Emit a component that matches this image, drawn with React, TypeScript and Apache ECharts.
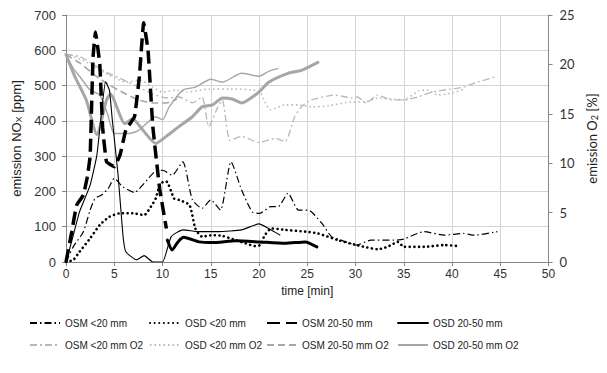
import React, { useEffect, useRef } from "react";
import * as echarts from "echarts";

// ---- time axis ticks ----
const timeTicks = [0, 50, 5];
const noxTicks = [0, 700, 100];
const o2Ticks = [0, 25, 5];

// ---- NOx series (ppm) ----
const osm20T = [0, 0.75, 1.8, 2.5, 3, 3.7, 4.4, 5, 5.9, 7.1, 8.1, 9.2, 10, 11, 12.1, 13.1, 14.1, 15, 16, 17.1, 18.2, 19.3, 20.1, 21.2, 22, 23, 24.1, 25.1, 26.5, 27.5, 28.5, 30.1, 31.6, 34, 35, 37.1, 39.2, 41.2, 42.3, 44.7];
const osm20V = [0, 43, 86, 147, 180, 190, 209, 237, 213, 197, 223, 256, 260, 246, 284, 176, 152, 176, 147, 284, 204, 142, 138, 157, 157, 195, 147, 147, 110, 72, 62, 48, 62, 62, 65, 86, 76, 81, 76, 86];

const osd20T = [0, 0.75, 1.4, 2.5, 3.5, 4.5, 5.6, 6.9, 8.1, 8.8, 9.3, 9.8, 10.4, 11.2, 11.7, 12.8, 13.4, 14.1, 15.2, 16.2, 17.6, 18.6, 19.6, 20.1, 20.6, 21.3, 22.7, 24.8, 26.1, 28.2, 30.1, 30.9, 32.3, 33.3, 34.4, 35, 37.1, 39.2, 40.7];
const osd20V = [0, 6, 29, 67, 105, 128, 138, 138, 133, 157, 180, 223, 228, 180, 176, 161, 95, 72, 76, 74, 62, 53, 45, 48, 76, 95, 91, 86, 81, 62, 48, 43, 36, 43, 57, 43, 43, 48, 45];

const osm2050T = [0, 0.6, 1.1, 1.8, 2.2, 2.5, 2.8, 3.05, 3.5, 3.8, 4.2, 5, 5.6, 6.2, 7.1, 7.6, 8.05, 8.5, 9, 9.7, 10.4];
const osm2050V = [0, 86, 161, 190, 240, 300, 580, 652, 560, 380, 284, 270, 303, 374, 412, 525, 678, 600, 383, 209, 95];

const osd2050T = [10.5, 11.0, 11.6, 12.2, 13.8, 15.2, 17.6, 20, 22.7, 24.8, 26];
const osd2050V = [62, 34, 57, 70, 57, 55, 60, 57, 53, 57, 43];

const extraNoxT = [0, 0.7, 1.4, 2.5, 3.2, 3.7, 4.1, 4.5, 4.8, 5.4, 5.9, 6.2, 7.3, 8.1, 9, 10, 10.9, 12.1, 13.8, 15.8, 18.2, 20, 21, 22.2];
const extraNoxV = [0, 70, 142, 218, 303, 430, 511, 487, 402, 246, 76, 29, 6, 18, 0, 0, 72, 91, 86, 86, 91, 108, 95, 76];

// ---- O2 series (%) ----
const osm20O2T = [0, 1.4, 2.8, 4.2, 5.6, 7.3, 9, 10.4, 11.7, 13.1, 14.1, 14.8, 15.7, 16.2, 17, 18.2, 20, 21.7, 22.7, 23.7, 24.4, 25.4, 27.9, 29.6, 30.2, 31.1, 32.3, 33.7, 35, 36.4, 38, 39.8, 41.2, 42.6, 44.7];
const osm20O2V = [21.0, 20.8, 20.0, 19.2, 18.6, 17.8, 17.0, 16.6, 16.7, 16.1, 16.7, 13.7, 15.6, 16.4, 12.3, 12.7, 12.1, 12.5, 12.2, 14.7, 15.7, 16.4, 16.9, 16.6, 16.7, 16.1, 16.9, 16.4, 16.4, 16.7, 17.2, 17.5, 17.7, 18.2, 18.8];

const osd20O2T = [0, 1.8, 2.8, 4.5, 6.2, 7.6, 9, 10, 11.4, 12.5, 14.8, 16.9, 20, 20.6, 21.2, 22.7, 24.1, 25.4, 27.2, 29.6, 31, 32.3, 35, 36.5, 37.5, 38.5, 40, 41.2];
const osd20O2V = [21.1, 20.4, 19.8, 18.9, 18.2, 18.4, 17.7, 17.2, 17.4, 17.2, 17.5, 17.5, 17.3, 16.2, 15.4, 15.9, 15.9, 15.7, 15.8, 16.2, 16.2, 16.6, 16.4, 17.3, 17.4, 16.9, 17.1, 17.5];

const osm2050O2T = [0, 1.5, 3, 4.5, 6, 7.5, 9, 10.4, 11.5];
const osm2050O2V = [21.0, 20.1, 18.9, 17.9, 17.1, 16.4, 16.1, 16.1, 16.5];

const osd2050O2T = [0, 0.75, 1.4, 2.5, 3.5, 4.3, 5, 6.5, 7.5, 9.3, 10, 10.7, 12.1, 13.4, 15, 16.2, 18.2, 20, 21, 22];
const osd2050O2V = [21.0, 19.6, 18.8, 17.4, 16.9, 15.0, 13.0, 13.0, 13.3, 14.7, 14.4, 15.7, 17.4, 17.7, 18.5, 18.2, 19.1, 18.8, 19.3, 19.6];

const extraO2T = [0, 0.9, 2.1, 3.2, 4.2, 4.6, 6.1, 6.9, 8, 9.3, 10.5, 11.7, 13.1, 14.1, 15.2, 16.2, 17.2, 18.2, 20, 21, 23, 24.4, 26.1];
const extraO2V = [21.0, 18.8, 16.4, 12.9, 16.4, 17.0, 14.0, 14.5, 13.3, 12.0, 12.8, 13.7, 14.7, 15.7, 15.9, 16.6, 16.5, 16.1, 17.2, 18.2, 19.1, 19.4, 20.2];

const legendRows = [
  ["OSM <20 mm", "OSD <20 mm", "OSM 20-50 mm", "OSD 20-50 mm"],
  ["OSM <20 mm O2", "OSD <20 mm O2", "OSM 20-50 mm O2", "OSD 20-50 mm O2"],
];

const pairs = (t: number[], v: number[]) => t.map((x, i) => [x, v[i]]);

const BLACK = "#000000";
const GRAY = "#a6a6a6";
const LGRAY = "#b8b8b8";

export default function App() {
  const ref = useRef<HTMLDivElement>(null);
  useEffect(() => {
    document.body.style.margin = "0";
    const chart = echarts.init(ref.current!, null, { renderer: "svg" });

    const mk = (name: string, t: number[], v: number[], axis: number, color: string, width: number, type: any, cap = "butt", smooth = 0.2) => ({
      name,
      type: "line",
      yAxisIndex: axis,
      data: pairs(t, v),
      smooth,
      symbol: "none",
      showSymbol: false,
      lineStyle: { color, width, type, cap },
      itemStyle: { color },
      z: axis === 0 ? 3 : 2,
    });

    const series = [
      mk("OSM <20 mm O2", osm20O2T, osm20O2V, 1, LGRAY, 1.3, [7, 3, 2, 3]),
      mk("OSD <20 mm O2", osd20O2T, osd20O2V, 1, LGRAY, 1.6, [1.5, 3]),
      mk("OSM 20-50 mm O2", osm2050O2T, osm2050O2V, 1, GRAY, 1.6, [7, 4]),
      mk("OSD 20-50 mm O2", osd2050O2T, osd2050O2V, 1, GRAY, 1.4, "solid"),
      mk("O2 extra", extraO2T, extraO2V, 1, GRAY, 3, "solid", "round"),
      mk("OSM <20 mm", osm20T, osm20V, 0, BLACK, 1.2, [7, 3, 1.5, 3]),
      mk("OSD <20 mm", osd20T, osd20V, 0, BLACK, 2.6, [0.1, 4.5], "round"),
      mk("OSM 20-50 mm", osm2050T, osm2050V, 0, BLACK, 3.5, [13, 6], "butt", 0.1),
      mk("OSD 20-50 mm", osd2050T, osd2050V, 0, BLACK, 3, "solid", "round"),
      mk("NOx extra", extraNoxT, extraNoxV, 0, BLACK, 1.1, "solid", "butt", 0.15),
    ];

    const lefts = [29, 149, 266, 397];
    const tops = [318, 340];
    const legends: any[] = [];
    legendRows.forEach((row, r) =>
      row.forEach((name, c) =>
        legends.push({
          data: [name],
          left: lefts[c],
          top: tops[r],
          itemWidth: 30,
          itemHeight: 8,
          itemGap: 5,
          padding: 0,
          selectedMode: false,
          itemStyle: { opacity: 0 },
          textStyle: { fontSize: 10, color: "#222", fontFamily: "Liberation Sans" },
        })
      )
    );

    chart.setOption({
      animation: false,
      backgroundColor: "#ffffff",
      grid: { left: 66, right: 55, top: 15, bottom: 111 },
      legend: legends,
      xAxis: {
        type: "value",
        min: timeTicks[0],
        max: timeTicks[1],
        interval: timeTicks[2],
        name: "time [min]",
        nameLocation: "middle",
        nameGap: 20,
        nameTextStyle: { fontSize: 12, color: "#222", fontFamily: "Liberation Sans" },
        axisLine: { show: true, lineStyle: { color: "#868686", width: 1 } },
        axisTick: { show: true, length: 4, lineStyle: { color: "#868686" } },
        axisLabel: { fontSize: 12, color: "#333", margin: 6, fontFamily: "Liberation Sans" },
        splitLine: { show: true, lineStyle: { color: "#d4d4d4", width: 1 } },
      },
      yAxis: [
        {
          type: "value",
          min: noxTicks[0],
          max: noxTicks[1],
          interval: noxTicks[2],
          name: "emission NO{sub|X} [ppm]",
          nameLocation: "middle",
          nameRotate: 90,
          nameGap: 43,
          nameTextStyle: {
            fontSize: 13,
            color: "#222",
            fontFamily: "Liberation Sans",
            rich: { sub: { fontSize: 9, color: "#222", fontFamily: "Liberation Sans", padding: [5, 0, 0, 0] } },
          },
          axisLine: { show: true, lineStyle: { color: "#868686" } },
          axisTick: { show: true, length: 4, lineStyle: { color: "#868686" } },
          axisLabel: { fontSize: 13, color: "#333", margin: 10, fontFamily: "Liberation Sans" },
          splitLine: { show: true, lineStyle: { color: "#d4d4d4", width: 1 } },
        },
        {
          type: "value",
          position: "right",
          min: o2Ticks[0],
          max: o2Ticks[1],
          interval: o2Ticks[2],
          name: "emission O{sub|2} [%]",
          nameLocation: "middle",
          nameRotate: 90,
          nameGap: 36,
          nameTextStyle: {
            fontSize: 13,
            color: "#222",
            fontFamily: "Lato",
            rich: { sub: { fontSize: 9, color: "#222", fontFamily: "Lato", padding: [5, 0, 0, 0] } },
          },
          axisLine: { show: true, lineStyle: { color: "#868686" } },
          axisTick: { show: true, length: 4, lineStyle: { color: "#868686" } },
          axisLabel: { fontSize: 13, color: "#333", margin: 11, fontFamily: "Lato" },
          splitLine: { show: false },
        },
      ],
      series,
    });
    return () => chart.dispose();
  }, []);
  return <div ref={ref} style={{ width: 607, height: 373, background: "#fff" }} />;
}
